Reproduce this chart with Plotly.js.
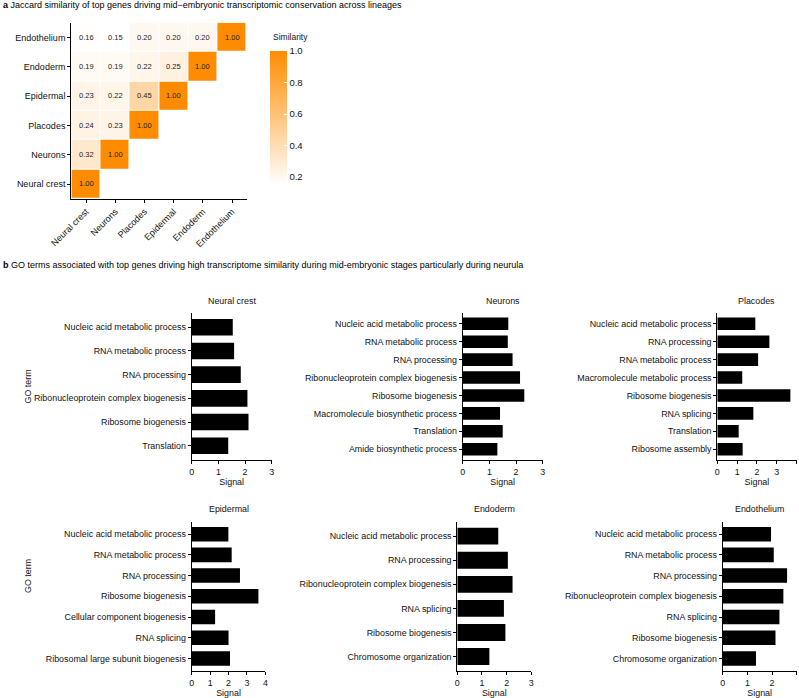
<!DOCTYPE html>
<html>
<head>
<meta charset="utf-8">
<script src="https://cdn.plot.ly/plotly-3.0.1.min.js"></script>
<style>html,body{margin:0;padding:0;background:#fff;}#chart{width:799px;height:698px;}</style>
</head>
<body>
<div id="chart"></div>
<script>
// ---------- Data ----------
const lineages = ['Neural crest','Neurons','Placodes','Epidermal','Endoderm','Endothelium'];
const simNeuralCrest = [1.00, null, null, null, null, null];
const simNeurons     = [0.32, 1.00, null, null, null, null];
const simPlacodes    = [0.24, 0.23, 1.00, null, null, null];
const simEpidermal   = [0.23, 0.22, 0.45, 1.00, null, null];
const simEndoderm    = [0.19, 0.19, 0.22, 0.25, 1.00, null];
const simEndothelium = [0.16, 0.15, 0.20, 0.20, 0.20, 1.00];
const cbTicks = [0.2, 0.4, 0.6, 0.8, 1.0];
const cbTickText = ['0.2','0.4','0.6','0.8','1.0'];

const ncTerms = ['Nucleic acid metabolic process','RNA metabolic process','RNA processing','Ribonucleoprotein complex biogenesis','Ribosome biogenesis','Translation'];
const ncVals  = [1.54, 1.59, 1.84, 2.09, 2.13, 1.37];
const neuTerms = ['Nucleic acid metabolic process','RNA metabolic process','RNA processing','Ribonucleoprotein complex biogenesis','Ribosome biogenesis','Macromolecule biosynthetic process','Translation','Amide biosynthetic process'];
const neuVals  = [1.71, 1.69, 1.87, 2.15, 2.31, 1.40, 1.50, 1.30];
const plaTerms = ['Nucleic acid metabolic process','RNA processing','RNA metabolic process','Macromolecule metabolic process','Ribosome biogenesis','RNA splicing','Translation','Ribosome assembly'];
const plaVals  = [1.92, 2.63, 2.06, 1.26, 3.69, 1.82, 1.08, 1.28];
const epiTerms = ['Nucleic acid metabolic process','RNA metabolic process','RNA processing','Ribosome biogenesis','Cellular component biogenesis','RNA splicing','Ribosomal large subunit biogenesis'];
const epiVals  = [1.99, 2.17, 2.62, 3.62, 1.27, 2.00, 2.08];
const endTerms = ['Nucleic acid metabolic process','RNA processing','Ribonucleoprotein complex biogenesis','RNA splicing','Ribosome biogenesis','Chromosome organization'];
const endVals  = [1.66, 2.05, 2.24, 1.89, 1.95, 1.30];
const ethTerms = ['Nucleic acid metabolic process','RNA metabolic process','RNA processing','Ribonucleoprotein complex biogenesis','RNA splicing','Ribosome biogenesis','Chromosome organization'];
const ethVals  = [1.96, 2.07, 2.61, 2.46, 2.30, 2.14, 1.35];

const panelTitles = ['Neural crest','Neurons','Placodes','Epidermal','Endoderm','Endothelium'];
const titleA = '<b>a</b> Jaccard similarity of top genes driving mid\u2212embryonic transcriptomic conservation across lineages';
const titleB = '<b>b</b> GO terms associated with top genes driving high transcriptome similarity during mid-embryonic stages particularly during neurula';

// ---------- Layout helpers ----------
const W = 799, H = 698;
const fx = p => p / W;
const fy = p => 1 - p / H;
const FONT = 'Liberation Sans, Arial, sans-serif';
const TXT = '#111111';
const TICK = 8.9;

const traces = [];
traces.push({
  type: 'heatmap',
  x: lineages, y: lineages,
  z: [simNeuralCrest, simNeurons, simPlacodes, simEpidermal, simEndoderm, simEndothelium],
  zmin: 0.15, zmax: 1.0,
  colorscale: [[0, '#FFFFFF'], [1, '#FF8C00']],
  xgap: 1, ygap: 1,
  texttemplate: '%{z:.2f}',
  textfont: {size: 7.5, color: '#222', family: FONT},
  hoverongaps: false,
  xaxis: 'x', yaxis: 'y',
  colorbar: {
    x: fx(270), xanchor: 'left', xref: 'paper',
    y: fy(118), yanchor: 'middle', yref: 'paper',
    len: 134, lenmode: 'pixels', thickness: 17,
    outlinewidth: 0,
    tickvals: cbTicks, ticktext: cbTickText,
    ticks: 'inside', ticklen: 3, tickcolor: '#ffffff',
    tickfont: {size: 9.5, color: TXT, family: FONT},
    xpad: 0, ypad: 0
  }
});

const bars = [
  {terms: ncTerms, vals: ncVals},
  {terms: neuTerms, vals: neuVals},
  {terms: plaTerms, vals: plaVals},
  {terms: epiTerms, vals: epiVals},
  {terms: endTerms, vals: endVals},
  {terms: ethTerms, vals: ethVals}
];
bars.forEach((b, i) => {
  traces.push({
    type: 'bar', orientation: 'h',
    x: b.vals, y: b.terms,
    marker: {color: '#000000'},
    width: 0.7,
    xaxis: 'x' + (i + 2), yaxis: 'y' + (i + 2),
    showlegend: false, hoverinfo: 'x+y'
  });
});

// panel geometry in pixels: [left, right, top, bottom, xmax]
const geom = [
  [191.7, 271.7, 313, 460, 3],
  [462.7, 542.7, 313, 460, 3],
  [717.3, 796.5, 313, 460, 4],
  [191.7, 265.4, 521.7, 671, 4],
  [457.3, 531.3, 521.7, 671, 3],
  [722.7, 796.7, 521.7, 671, 3]
];

const layout = {
  width: W, height: H,
  margin: {l: 0, r: 0, t: 0, b: 0},
  paper_bgcolor: '#fff', plot_bgcolor: 'rgba(0,0,0,0)',
  font: {family: FONT, color: TXT, size: 8},
  showlegend: false,
  xaxis: {
    domain: [fx(71.4), fx(246.6)], anchor: 'y',
    type: 'category', categoryarray: lineages,
    showline: true, linecolor: '#000', linewidth: 1.2,
    ticks: 'outside', ticklen: 3, tickcolor: '#000',
    tickangle: -45, tickfont: {size: 9, color: TXT, family: FONT},
    showgrid: false, zeroline: false, fixedrange: true
  },
  yaxis: {
    domain: [fy(198.7), fy(22.7)], anchor: 'x',
    type: 'category', categoryarray: lineages,
    showline: true, linecolor: '#000', linewidth: 1.2,
    ticks: 'outside', ticklen: 3, tickcolor: '#000',
    tickfont: {size: 9, color: TXT, family: FONT},
    showgrid: false, zeroline: false, fixedrange: true
  },
  annotations: [
    {text: titleA, x: fx(1), y: fy(5), xref: 'paper', yref: 'paper', xanchor: 'left', yanchor: 'middle', showarrow: false, font: {size: 9, color: '#000', family: FONT}},
    {text: titleB, x: fx(1), y: fy(265), xref: 'paper', yref: 'paper', xanchor: 'left', yanchor: 'middle', showarrow: false, font: {size: 9, color: '#000', family: FONT}},
    {text: 'Similarity', x: fx(271), y: fy(37.5), xref: 'paper', yref: 'paper', xanchor: 'left', yanchor: 'middle', showarrow: false, font: {size: 8.5, color: TXT, family: FONT}},
    {text: 'GO term', x: fx(21), y: fy(386.5), xref: 'paper', yref: 'paper', textangle: -90, showarrow: false, font: {size: TICK, color: TXT, family: FONT}},
    {text: 'GO term', x: fx(21), y: fy(595), xref: 'paper', yref: 'paper', textangle: -90, showarrow: false, font: {size: TICK, color: TXT, family: FONT}}
  ]
};

geom.forEach((g, i) => {
  const n = bars[i].terms.length;
  const k = i + 2;
  layout['xaxis' + k] = {
    domain: [fx(g[0]), fx(g[1])], anchor: 'y' + k,
    range: [0, g[4]], dtick: 1, tick0: 0,
    showline: true, linecolor: '#000', linewidth: 1,
    ticks: 'outside', ticklen: 3, tickcolor: '#000',
    tickfont: {size: TICK, color: TXT, family: FONT},
    showgrid: false, zeroline: false, fixedrange: true,
    title: {text: 'Signal', standoff: 2, font: {size: TICK, color: TXT, family: FONT}}
  };
  layout['yaxis' + k] = {
    domain: [fy(g[3]), fy(g[2])], anchor: 'x' + k,
    type: 'category', categoryarray: bars[i].terms,
    range: [n - 0.4, -0.6],
    showline: true, linecolor: '#000', linewidth: 1,
    ticks: 'outside', ticklen: 3, tickcolor: '#000',
    tickfont: {size: TICK, color: TXT, family: FONT},
    showgrid: false, zeroline: false, fixedrange: true
  };
  const cy = i < 3 ? 300.7 : 509;
  layout.annotations.push({
    text: panelTitles[i], x: fx((g[0] + g[1]) / 2), y: fy(cy), xref: 'paper', yref: 'paper',
    xanchor: 'center', yanchor: 'middle', showarrow: false,
    font: {size: TICK, color: TXT, family: FONT}
  });
});

Plotly.newPlot('chart', traces, layout, {staticPlot: true, displayModeBar: false});
</script>
</body>
</html>
